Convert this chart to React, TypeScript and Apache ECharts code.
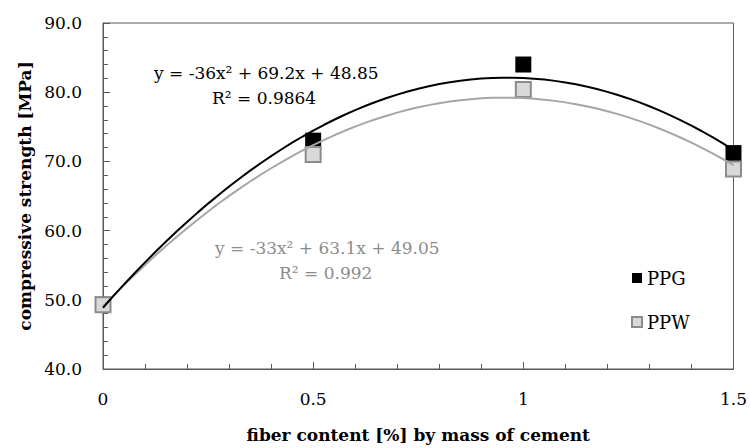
import React, { useEffect, useRef } from "react";
import * as echarts from "echarts";

// Fiber content (% by mass of cement)
const fiberContent = [0, 0.5, 1, 1.5];
// Compressive strength (MPa)
const ppgStrength = [49.3, 73, 84, 71.2];
const ppwStrength = [49.3, 71, 80.4, 68.9];
// Quadratic trendline coefficients [a, b, c] for y = a x^2 + b x + c
const ppgTrend = [-36, 69.2, 48.85];
const ppwTrend = [-33, 63.1, 49.05];
const ppgEquation = ["y = -36x² + 69.2x + 48.85", "R² = 0.9864"];
const ppwEquation = ["y = -33x² + 63.1x + 49.05", "R² = 0.992"];
const xTicks = [0, 0.5, 1, 1.5];

const SERIF = "'DejaVu Serif', 'Liberation Serif', serif";
const AXIS = "#595959";

function trendPoints(coef: number[]) {
  const pts: number[][] = [];
  for (let i = 0; i <= 60; i++) {
    const x = (1.5 * i) / 60;
    pts.push([x, coef[0] * x * x + coef[1] * x + coef[2]]);
  }
  return pts;
}

export default function App() {
  const ref = useRef<HTMLDivElement>(null);
  useEffect(() => {
    if (!ref.current) return;
    const chart = echarts.init(ref.current, null, { renderer: "svg" });
    chart.setOption({
      animation: false,
      backgroundColor: "#ffffff",
      grid: {
        left: 103,
        right: 15,
        top: 23,
        bottom: 78,
        show: true,
        borderColor: AXIS,
        borderWidth: 1,
      },
      legend: {
        data: ["PPG", "PPW"],
        orient: "vertical",
        left: 626,
        top: 264,
        itemWidth: 10,
        itemHeight: 10,
        itemGap: 26,
        textStyle: { fontFamily: SERIF, fontSize: 18, color: "#000" },
      },
      xAxis: {
        type: "value",
        min: 0,
        max: 1.5,
        interval: 0.5,
        name: "fiber content [%] by mass of cement",
        nameLocation: "middle",
        nameGap: 57,
        nameTextStyle: { fontFamily: SERIF, fontSize: 17, fontWeight: "bold", color: "#000" },
        axisLine: { show: true, lineStyle: { color: AXIS, width: 1 } },
        axisTick: { show: true, inside: true, length: 7, lineStyle: { color: AXIS } },
        minorTick: { show: true, splitNumber: 5, length: 5, lineStyle: { color: AXIS } },
        splitLine: { show: false },
        axisLabel: {
          margin: 21,
          fontFamily: SERIF,
          fontSize: 17,
          color: "#000",
          formatter: (v: number) => (xTicks.includes(v) ? String(v) : ""),
        },
      },
      yAxis: {
        type: "value",
        min: 40,
        max: 90,
        interval: 10,
        name: "compressive strength [MPa]",
        nameLocation: "middle",
        nameGap: 70,
        nameTextStyle: { fontFamily: SERIF, fontSize: 17, fontWeight: "bold", color: "#000" },
        axisLine: { show: true, lineStyle: { color: AXIS, width: 1 } },
        axisTick: { show: true, inside: true, length: 7, lineStyle: { color: AXIS } },
        minorTick: { show: true, splitNumber: 5, length: 5, lineStyle: { color: AXIS } },
        splitLine: { show: false },
        axisLabel: {
          margin: 21,
          fontFamily: SERIF,
          fontSize: 17,
          color: "#000",
          formatter: (v: number) => v.toFixed(1),
        },
      },
      series: [
        {
          name: "PPW trend",
          type: "line",
          data: trendPoints(ppwTrend),
          showSymbol: false,
          lineStyle: { color: "#a6a6a6", width: 2 },
          silent: true,
        },
        {
          name: "PPG trend",
          type: "line",
          data: trendPoints(ppgTrend),
          showSymbol: false,
          lineStyle: { color: "#000000", width: 2 },
          silent: true,
        },
        {
          name: "PPG",
          type: "scatter",
          symbol: "rect",
          symbolSize: 16,
          itemStyle: { color: "#000000", opacity: 1 },
          data: fiberContent.map((x, i) => [x, ppgStrength[i]]),
        },
        {
          name: "PPW",
          type: "scatter",
          symbol: "rect",
          symbolSize: 15,
          itemStyle: { color: "#d9d9d9", borderColor: "#8c8c8c", borderWidth: 2, opacity: 1 },
          data: fiberContent.map((x, i) => [x, ppwStrength[i]]),
        },
      ],
      graphic: [
        {
          type: "text",
          left: 154,
          top: 64,
          style: { text: ppgEquation[0], fontFamily: SERIF, fontSize: 17, fill: "#000" },
        },
        {
          type: "text",
          left: 212,
          top: 89,
          style: { text: ppgEquation[1], fontFamily: SERIF, fontSize: 17, fill: "#000" },
        },
        {
          type: "text",
          left: 215,
          top: 239,
          style: { text: ppwEquation[0], fontFamily: SERIF, fontSize: 17, fill: "#8c8c8c" },
        },
        {
          type: "text",
          left: 279,
          top: 264,
          style: { text: ppwEquation[1], fontFamily: SERIF, fontSize: 17, fill: "#8c8c8c" },
        },
      ],
    });
    return () => chart.dispose();
  }, []);
  return (
    <div
      ref={ref}
      style={{ position: "fixed", left: 0, top: 0, width: 750, height: 448 }}
    />
  );
}
